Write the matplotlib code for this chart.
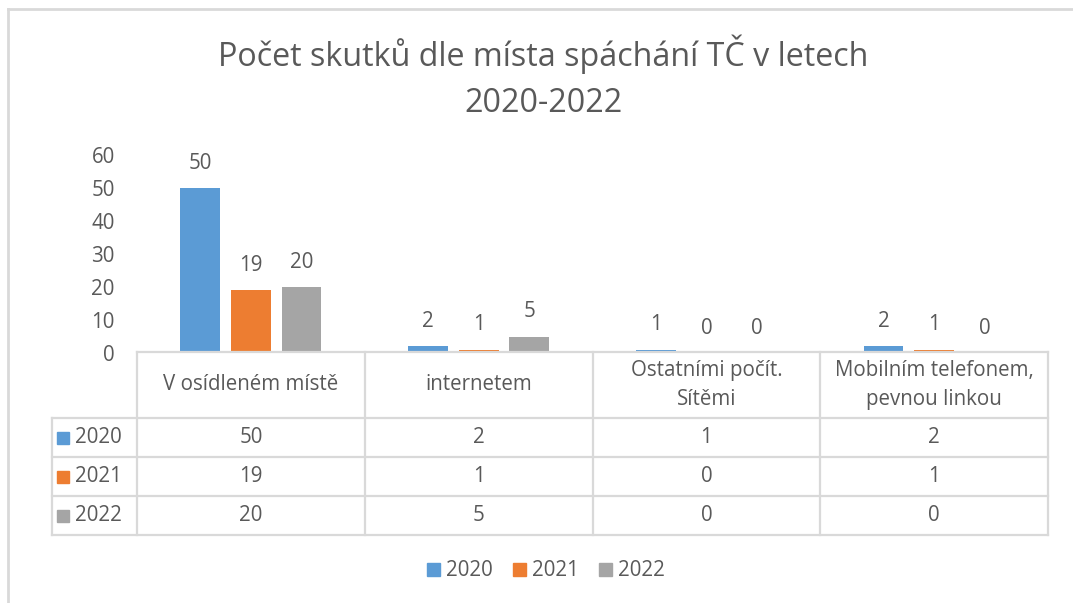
import matplotlib.pyplot as plt
from matplotlib.lines import Line2D
from matplotlib.patches import Patch

plt.rcParams['font.family'] = ['Open Sans', 'DejaVu Sans']

categories = ['V osídleném místě', 'internetem', 'Ostatními počít.\nSítěmi',
              'Mobilním telefonem,\npevnou linkou']
years = ['2020', '2021', '2022']
v2020 = [50, 2, 1, 2]
v2021 = [19, 1, 0, 1]
v2022 = [20, 5, 0, 0]
series = [v2020, v2021, v2022]
colors = ['#5B9BD5', '#ED7D31', '#A5A5A5']
txt = '#595959'
grid = '#D9D9D9'
fs = 14.8

W, H = 1073, 603
fig = plt.figure(figsize=(W / 100, H / 100), dpi=100)

def px(x0, y0, x1, y1):
    # pixel box (top-left origin) -> figure fraction rect
    return [x0 / W, 1 - y1 / H, (x1 - x0) / W, (y1 - y0) / H]

# outer chart border (top + left visible)
fig.add_artist(Line2D([8 / W, 1], [1 - 9 / H, 1 - 9 / H], color=grid, lw=2))
fig.add_artist(Line2D([8 / W, 8 / W], [0, 1 - 9 / H], color=grid, lw=2))

fig.text(543 / W, 1 - 77 / H, 'Počet skutků dle místa spáchání TČ v letech\n2020-2022',
         ha='center', va='center', fontsize=23.2, color=txt, linespacing=1.5)

ax = fig.add_axes(px(137, 155, 1048, 353))
n = len(categories)
xs = list(range(n))
bw = 0.175
step = 0.222
for i, (vals, c) in enumerate(zip(series, colors)):
    pos = [x + (i - 1) * step for x in xs]
    ax.bar(pos, vals, width=bw, color=c)
    for p, v in zip(pos, vals):
        ax.annotate(str(v), (p, v), xytext=(0, 25), textcoords='offset pixels',
                    ha='center', va='center', fontsize=fs, color=txt)
ax.set_xlim(-0.5, n - 0.5)
ax.set_ylim(0, 60)
ax.set_yticks(range(0, 61, 10))
ax.set_xticks([])
for s in ax.spines.values():
    s.set_visible(False)
ax.tick_params(axis='y', length=0, labelsize=fs, labelcolor=txt, pad=16)

# data table
tx0 = 52
unit = (1048 - 137) / n
tax = fig.add_axes(px(tx0, 352, 1048, 535))
tax.set_xlim(-0.5 - (137 - tx0) / unit, n - 0.5)
rows = [0, 66, 105, 144, 183]
tax.set_ylim(rows[-1], 0)
tax.axis('off')
lk = dict(color=grid, lw=1.6, clip_on=False)
tax.plot([-0.5, n - 0.5], [0, 0], **lk)
for b in range(n + 1):
    tax.plot([b - 0.5, b - 0.5], [0, rows[-1]], **lk)
for r in rows[1:]:
    tax.plot([tax.get_xlim()[0], n - 0.5], [r, r], **lk)
tax.plot([tax.get_xlim()[0]] * 2, [rows[1], rows[-1]], **lk)
for j, cat in enumerate(categories):
    tax.text(j, rows[1] / 2, cat, ha='center', va='center', fontsize=fs,
             color=txt, linespacing=1.45)
for i, (y, vals, c) in enumerate(zip(years, series, colors)):
    yc = (rows[i + 1] + rows[i + 2]) / 2
    lx = tax.get_xlim()[0]
    tax.plot([lx + 0.05], [yc], marker='s', ms=8, color=c, clip_on=False)
    tax.text(lx + 0.1, yc, y, ha='left', va='center', fontsize=fs, color=txt)
    for j, v in enumerate(vals):
        tax.text(j, yc, str(v), ha='center', va='center', fontsize=fs, color=txt)

handles = [Patch(color=c, label=y) for y, c in zip(years, colors)]
fig.legend(handles=handles, loc='center', bbox_to_anchor=(546 / W, 1 - 571 / H),
           ncol=3, frameon=False, fontsize=fs, labelcolor=txt,
           handlelength=0.6, handleheight=0.6, handletextpad=0.3, columnspacing=1.0)

fig.savefig('out.png', dpi=100, facecolor='white')
